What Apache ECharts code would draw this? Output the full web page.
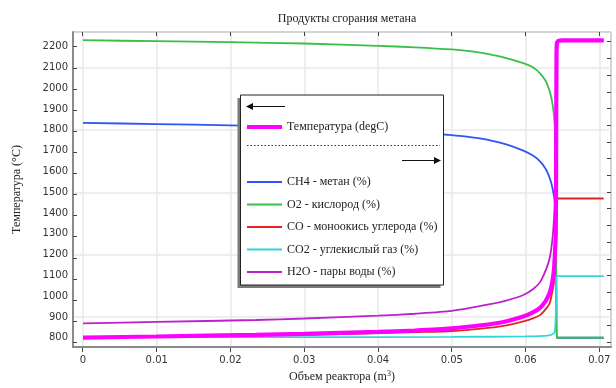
<!DOCTYPE html>
<html>
<head>
<meta charset="utf-8">
<script src="https://cdn.jsdelivr.net/npm/echarts@6/dist/echarts.min.js"></script>
<style>
html,body{margin:0;padding:0;background:#fff;}
#c{width:616px;height:388px;}
</style>
</head>
<body>
<div id="c"></div>
<script>
// ---- tick values ----
const xTicks = [0, 0.01, 0.02, 0.03, 0.04, 0.05, 0.06, 0.07];
const tempTicks = [800, 900, 1000, 1100, 1200, 1300, 1400, 1500, 1600, 1700, 1800, 1900, 2000, 2100, 2200];
const speciesTicks = [0,1,2,3,4,5,6,7,8,9,10,11,12,13,14,15,16,17,18];

// ---- series names ----
const tempName = 'Температура (degC)';
const speciesNames = ['CH4 - метан (%)', 'O2 - кислород (%)', 'CO - моноокись углерода (%)', 'CO2 - углекислый газ (%)', 'H2O - пары воды (%)'];

// ---- temperature (degC) ----
const tempX = [0, 0.01, 0.0234, 0.03, 0.04, 0.045, 0.05, 0.054, 0.057, 0.0597, 0.061, 0.062, 0.0627, 0.063, 0.0633, 0.0636, 0.0638, 0.0639, 0.0641, 0.06415, 0.0642, 0.06425, 0.0644, 0.065, 0.0706];
const tempY = [801, 806, 814, 819, 828, 835, 845, 860, 876, 902, 922, 945, 975, 995, 1020, 1063, 1110, 1150, 1300, 1700, 2150, 2215, 2228, 2231, 2231];

// ---- CH4 ----
const ch4X = [0, 0.01, 0.02, 0.03, 0.04, 0.045, 0.0493, 0.0525, 0.0552, 0.0575, 0.0597, 0.061, 0.062, 0.0627, 0.0631, 0.0635, 0.0637, 0.0639, 0.0641, 0.06415, 0.0642, 0.06425, 0.0706];
const ch4Y = [13.07, 13.0, 12.92, 12.82, 12.66, 12.53, 12.35, 12.2, 12.01, 11.75, 11.38, 11.08, 10.72, 10.3, 9.92, 9.4, 9.0, 8.5, 7.3, 5.0, 2.0, 0, 0];

// ---- O2 ----
const o2X = [0, 0.01, 0.02, 0.03, 0.04, 0.045, 0.05, 0.053, 0.055, 0.057, 0.0597, 0.061, 0.062, 0.0627, 0.063, 0.0634, 0.0637, 0.0639, 0.064, 0.06405, 0.0641, 0.06415, 0.0642, 0.0706];
const o2Y = [18.10, 18.04, 17.98, 17.90, 17.76, 17.67, 17.54, 17.40, 17.25, 17.06, 16.71, 16.45, 16.07, 15.65, 15.35, 14.8, 14.1, 13.3, 12.4, 10.9, 7.3, 3.1, 0, 0];

// ---- CO ----
const coX = [0, 0.01, 0.02, 0.03, 0.04, 0.045, 0.05, 0.054, 0.057, 0.0597, 0.061, 0.062, 0.0629, 0.0633, 0.0636, 0.0638, 0.0639, 0.064, 0.0641, 0.06415, 0.0642, 0.0706];
const coY = [0.03, 0.07, 0.12, 0.18, 0.28, 0.34, 0.41, 0.55, 0.72, 0.99, 1.18, 1.39, 1.83, 2.13, 2.73, 3.2, 3.5, 4.5, 6.0, 7.5, 8.47, 8.47];

// ---- CO2 ----
const co2X = [0, 0.03, 0.05, 0.06, 0.063, 0.0638, 0.064, 0.06415, 0.0642, 0.06425, 0.0706];
const co2Y = [0.04, 0.04, 0.05, 0.08, 0.13, 0.25, 0.45, 2.0, 3.7, 3.75, 3.75];

// ---- H2O ----
const h2oX = [0, 0.01, 0.0234, 0.03, 0.04, 0.045, 0.05, 0.0552, 0.0575, 0.0597, 0.061, 0.062, 0.0629, 0.0633, 0.0636, 0.0638, 0.064, 0.0641, 0.0642, 0.0643, 0.0706];
const h2oY = [0.875, 0.96, 1.08, 1.17, 1.34, 1.46, 1.63, 2.04, 2.28, 2.6, 2.95, 3.4, 4.3, 4.9, 5.8, 6.8, 8.5, 12, 17, 18.05, 18.1];

const zip = (xs, ys) => xs.map((x, i) => [x, ys[i]]);

const speciesData = [zip(ch4X, ch4Y), zip(o2X, o2Y), zip(coX, coY), zip(co2X, co2Y), zip(h2oX, h2oY)];
const speciesColors = ['#2f55f5', '#3cbf48', '#e02424', '#33d6d6', '#bb22cc'];

const serif = 'Liberation Serif';
const sans = 'DejaVu Sans';

const chart = echarts.init(document.getElementById('c'), null, {renderer: 'canvas'});

const series = speciesNames.map((n, i) => ({
  name: n, type: 'line', xAxisIndex: 0, yAxisIndex: 1,
  data: speciesData[i], showSymbol: false, symbol: 'none', clip: true,
  smooth: 0.25,
  lineStyle: {color: speciesColors[i], width: 1.8}, itemStyle: {color: speciesColors[i]},
  z: 2, animation: false
}));
series.push({
  name: tempName, type: 'line', xAxisIndex: 0, yAxisIndex: 0,
  data: zip(tempX, tempY), showSymbol: false, symbol: 'none', smooth: 0.25,
  lineStyle: {color: '#ff00ff', width: 4.2}, itemStyle: {color: '#ff00ff'},
  z: 3, animation: false
});

const tick = {show: true, inside: true, length: 4, lineStyle: {color: '#444', width: 1}};
const hidden = {axisLine: {show: false, onZero: false}, axisLabel: {show: false}, splitLine: {show: false}};
const ax = (o) => Object.assign({type: 'value'}, hidden, o);

const option = {
  animation: false,
  title: {
    text: 'Продукты сгорания метана', left: 342, top: 8, textAlign: 'center',
    textStyle: {fontFamily: serif, fontSize: 12, fontWeight: 'normal', color: '#222'}
  },
  grid: [
    {left: 73, right: 5, top: 32, bottom: 36, show: true, borderColor: '#333', borderWidth: 1, backgroundColor: 'transparent'},
    {left: 82.7, right: 16.7, top: 32, bottom: 36, show: false},
    {left: 73, right: 5, top: 46.7, bottom: 45.7, show: false},
    {left: 73, right: 5, top: 41.7, bottom: 45.7, show: false}
  ],
  legend: [
    {
      data: [tempName], left: 247, top: 121, padding: 0, orient: 'vertical',
      itemWidth: 35, itemHeight: 4, icon: 'rect', z: 10,
      textStyle: {fontFamily: serif, fontSize: 12, color: '#222'}
    },
    {
      data: speciesNames, left: 247, top: 176, padding: 0, orient: 'vertical',
      itemWidth: 35, itemHeight: 2, icon: 'rect', itemGap: 10.5, z: 10,
      textStyle: {fontFamily: serif, fontSize: 12, color: '#222'}
    }
  ],
  xAxis: [
    {
      type: 'value', gridIndex: 0, min: -0.001355, max: 0.07159, position: 'bottom',
      name: 'Объем реактора (m{sup|3})', nameLocation: 'middle', nameGap: 23,
      nameTextStyle: {fontFamily: serif, fontSize: 12, color: '#222',
        rich: {sup: {fontFamily: serif, fontSize: 8, verticalAlign: 'top', padding: [0, 0, 6, 0], color: '#222'}}},
      axisLine: {show: true, onZero: false, lineStyle: {color: '#8a8a8a', width: 2}},
      axisTick: {show: false},
      axisLabel: {customValues: xTicks, fontFamily: sans, fontSize: 10, color: '#333', margin: 8},
      splitLine: {show: true, lineStyle: {color: '#e8e8e8', width: 1.5}}
    },
    // tick-only axes (frame ticks)
    ax({gridIndex: 1, min: xTicks[0], max: xTicks[xTicks.length - 1], interval: 0.01, position: 'bottom', axisTick: tick}),
    ax({gridIndex: 1, min: xTicks[0], max: xTicks[xTicks.length - 1], interval: 0.01, position: 'top', axisTick: tick}),
    ax({gridIndex: 2, min: 0, max: 1, show: false}),
    ax({gridIndex: 3, min: 0, max: 1, show: false})
  ],
  yAxis: [
    {
      type: 'value', gridIndex: 0, min: 755.5, max: 2271, position: 'left',
      name: 'Температура (°C)', nameLocation: 'middle', nameGap: 50, nameRotate: 90,
      nameTextStyle: {fontFamily: serif, fontSize: 12, color: '#222'},
      axisLine: {show: true, onZero: false, lineStyle: {color: '#8a8a8a', width: 2}},
      axisTick: {show: false},
      axisLabel: {customValues: tempTicks, fontFamily: sans, fontSize: 10, color: '#333', margin: 5, formatter: v => String(v)},
      splitLine: {show: true, lineStyle: {color: '#e8e8e8', width: 1.5}}
    },
    {
      type: 'value', gridIndex: 0, min: -0.563, max: 18.6, position: 'right',
      axisLine: {show: false, onZero: false}, axisTick: {show: false}, axisLabel: {show: false}, splitLine: {show: false}
    },
    ax({gridIndex: 1, min: 0, max: 1, show: false}),
    ax({gridIndex: 2, min: tempTicks[0], max: tempTicks[tempTicks.length - 1], interval: 100, position: 'left', axisTick: tick}),
    ax({gridIndex: 3, min: speciesTicks[0], max: speciesTicks[speciesTicks.length - 1], interval: 1, position: 'right', axisTick: tick})
  ],
  graphic: [
    {type: 'rect', z: 5, shape: {x: 237.5, y: 98, width: 203, height: 190}, style: {fill: '#7a7a7a'}},
    {type: 'rect', z: 6, shape: {x: 240.5, y: 95, width: 203, height: 190}, style: {fill: '#fff', stroke: '#222', lineWidth: 1}},
    {type: 'line', z: 11, shape: {x1: 250, y1: 106.5, x2: 285, y2: 106.5}, style: {stroke: '#111', lineWidth: 1}},
    {type: 'polygon', z: 11, shape: {points: [[246, 106.5], [253, 103], [253, 110]]}, style: {fill: '#111'}},
    {type: 'line', z: 11, shape: {x1: 247, y1: 145.5, x2: 440, y2: 145.5}, style: {stroke: '#333', lineWidth: 1, lineDash: [1.5, 2]}},
    {type: 'line', z: 11, shape: {x1: 402, y1: 160.5, x2: 437, y2: 160.5}, style: {stroke: '#111', lineWidth: 1}},
    {type: 'polygon', z: 11, shape: {points: [[441, 160.5], [434, 157], [434, 164]]}, style: {fill: '#111'}}
  ],
  series: series
};
chart.setOption(option);
</script>
</body>
</html>
